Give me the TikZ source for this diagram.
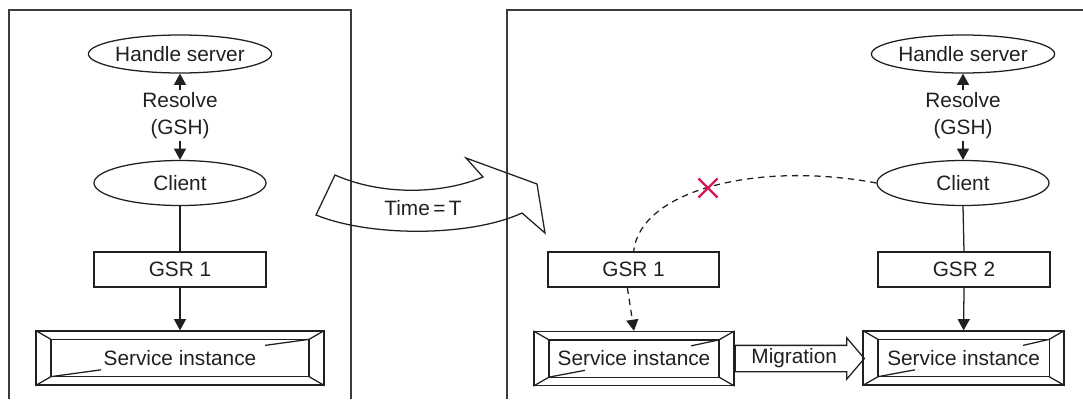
\documentclass[tikz,border=0pt]{standalone}
\usepackage{fontspec}
\setmainfont{Liberation Sans}
\usepackage{tikz}
\usetikzlibrary{arrows.meta, positioning, shapes.geometric, shapes.arrows, shapes.misc, calc}
\usepackage{xcolor}
\definecolor{inkgray}{RGB}{35,31,32}
\definecolor{framegray}{RGB}{60,60,60}
\definecolor{crossred}{RGB}{215,25,85}
\newcommand{\figfont}{\fontsize{14.8}{19.2}\selectfont}
\tikzset{
    % Handle server / client
    enode/.style={ellipse, draw=inkgray, minimum width=4.3cm, minimum height=#1,
                 inner sep=0pt, align=center},
    % Resolve labels
    rlbl/.style={align=center, inner sep=1pt},
    % GSR boxes
    gnode/.style={rectangle, draw=inkgray, minimum width=#1, minimum height=0.875cm,
                 inner sep=0pt},
    % Service instance frame
    snode/.style={rectangle, draw=inkgray, minimum width=#1, minimum height=1.35cm,
                 inner sep=0pt},
    % Migration arrow
    mnode/.style={single arrow, draw=inkgray, single arrow head extend=0.1875cm,
                 single arrow tip angle=99, minimum height=3.2275cm,
                 inner xsep=2pt, inner ysep=0.05cm, text height=0.39cm, text depth=0.135cm},
    % Broken link
    xnode/.style={cross out, draw=crossred, line width=1.7pt, minimum size=0.42cm, inner sep=0pt},
    sarrow/.style={-{Triangle[length=0.28cm, width=0.3cm]}},
    darrow/.style={dash pattern=on 4.5pt off 3.5pt},
    frame/.style={draw=framegray, line width=1pt},
}

\begin{document}
\begin{tikzpicture}[line width=0.9pt, color=inkgray, font=\figfont]
\useasboundingbox (0,0) rectangle (27.075,9.975);

% Frames
\draw[frame] (0.225,0) -- (0.225,9.725) -- (8.775,9.725) -- (8.775,0);
\draw[frame] (12.675,0) -- (12.675,9.725) -- (27.075,9.725);

% Left side - before
\node[enode=0.95cm]  (hs1)  at (4.5, 8.625) {Handle server};
\node[rlbl]          (res1) at (4.5, 7.09)  {Resolve\\(GSH)};
\node[enode=1.125cm] (cl1)  at (4.5, 5.4)   {Client};
\node[gnode=4.3cm]   (gsr1) at (4.5, 3.2375) {GSR 1};
\node[snode=7.2cm]   (si1)  at (4.5, 1.025) {Service instance};

% Right side - after
\node[enode=0.95cm]  (hs2)  at (24.075, 8.625) {Handle server};
\node[rlbl]          (res2) at (24.075, 7.09)  {Resolve\\(GSH)};
\node[enode=1.125cm] (cl2)  at (24.075, 5.4)   {Client};
\node[gnode=4.3cm]   (gsr2) at (24.1, 3.2375)  {GSR 2};
\node[snode=5.025cm] (si3)  at (24.09, 1.025)  {Service instance};

\node[gnode=4.275cm] (gsro) at (15.84, 3.2375) {GSR 1};
\node[snode=5cm]     (si2)  at (15.85, 1.0125) {Service instance};
\node[mnode, right=0pt of si2] (mig) {Migration};

% Service instance bevels
\foreach \n/\a/\b in {si1/1.1/1.25, si2/0.7/0.9, si3/0.65/0.92} {
    \coordinate (\n-nw) at ($(\n.north west)+(0.39,-0.225)$);
    \coordinate (\n-ne) at ($(\n.north east)+(-0.39,-0.225)$);
    \coordinate (\n-sw) at ($(\n.south west)+(0.39,0.225)$);
    \coordinate (\n-se) at ($(\n.south east)+(-0.39,0.225)$);
    \draw (\n-nw) rectangle (\n-se);
    \draw (\n.north west) -- (\n-nw);
    \draw (\n.north east) -- (\n-ne);
    \draw (\n.south west) -- (\n-sw);
    \draw (\n.south east) -- (\n-se);
    \draw (\n-ne) -- ++(-\a,-0.15);
    \draw (\n-sw) -- ++(\b,0.17);
}

% Arrows
\draw[sarrow] (res1.north) -- (hs1.south);
\draw[sarrow] (res1.south) -- (cl1.north);
\draw (cl1.south) -- (gsr1.north);
\draw[sarrow] (gsr1.south) -- (si1.north);

\draw[sarrow] (res2.north) -- (hs2.south);
\draw[sarrow] (res2.south) -- (cl2.north);
\draw (cl2.south) -- (gsr2.north);
\draw[sarrow] (gsr2.south) -- (si3.north);

% Old binding
\draw[darrow] (cl2.west) .. controls +(-2.925,0.55) and +(0.175,1.55) .. (gsro.north);
\draw[darrow, sarrow] (gsro.251) -- (si2.north);
\node[xnode] (brk) at (17.7, 5.275) {};

% Time = T
\draw (8.375,5.6) .. controls (9.5,5.1) and (11.0,5.1) .. (12.075,5.55)
      -- (11.65,6.025) -- (13.425,5.375) -- (13.625,4.15) -- (13.05,4.65)
      .. controls (11.75,4.05) and (9.25,4.05) .. (7.9,4.6) -- cycle;
\node (time) at (10.575, 4.775) {Time\,=\,T};
\end{tikzpicture}
\end{document}
